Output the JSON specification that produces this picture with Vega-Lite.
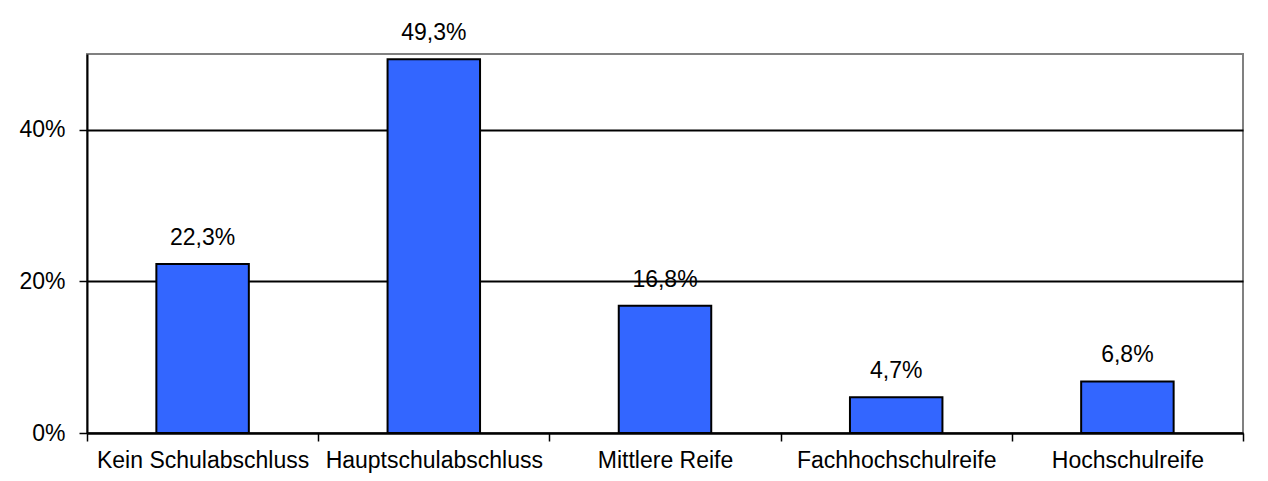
{
  "$schema": "https://vega.github.io/schema/vega-lite/v6.json",
  "autosize": "none",
  "width": 1156,
  "height": 379,
  "padding": {"left": 87, "top": 54, "right": 25, "bottom": 48},
  "background": "white",
  "config": {
    "locale": {"number": {"decimal": ",", "thousands": ".", "grouping": [3], "currency": ["", " €"]}},
    "font": "Liberation Sans",
    "view": {"stroke": "#808080", "strokeWidth": 2},
    "axis": {"labelFont": "Liberation Sans", "labelFontSize": 23, "labelColor": "black", "labelLimit": 0, "domainColor": "black", "domainWidth": 2, "tickColor": "black", "tickWidth": 1.5, "tickSize": 8}
  },
  "data": {
    "values": [
      {"abschluss": "Kein Schulabschluss", "anteil": 0.223},
      {"abschluss": "Hauptschulabschluss", "anteil": 0.493},
      {"abschluss": "Mittlere Reife", "anteil": 0.168},
      {"abschluss": "Fachhochschulreife", "anteil": 0.047},
      {"abschluss": "Hochschulreife", "anteil": 0.068}
    ]
  },
  "encoding": {
    "x": {
      "field": "abschluss", "type": "nominal", "sort": null,
      "scale": {"paddingInner": 0, "paddingOuter": 0},
      "axis": {"title": null, "labelAngle": 0, "tickBand": "extent", "labelPadding": 8, "grid": false}
    },
    "y": {
      "field": "anteil", "type": "quantitative",
      "scale": {"domain": [0, 0.5], "nice": false},
      "axis": {"title": null, "values": [0, 0.2, 0.4], "format": ".0%", "labelPadding": 14, "grid": true, "gridColor": "black", "gridWidth": 2, "gridOpacity": 1}
    }
  },
  "layer": [
    {"mark": {"type": "bar", "fill": "#3366FF", "stroke": "black", "strokeWidth": 2, "width": {"band": 0.4}}},
    {"mark": {"type": "text", "baseline": "bottom", "dy": -14, "fontSize": 23, "font": "Liberation Sans", "color": "black"},
     "encoding": {"text": {"field": "anteil", "type": "quantitative", "format": ".1%"}}}
  ]
}
